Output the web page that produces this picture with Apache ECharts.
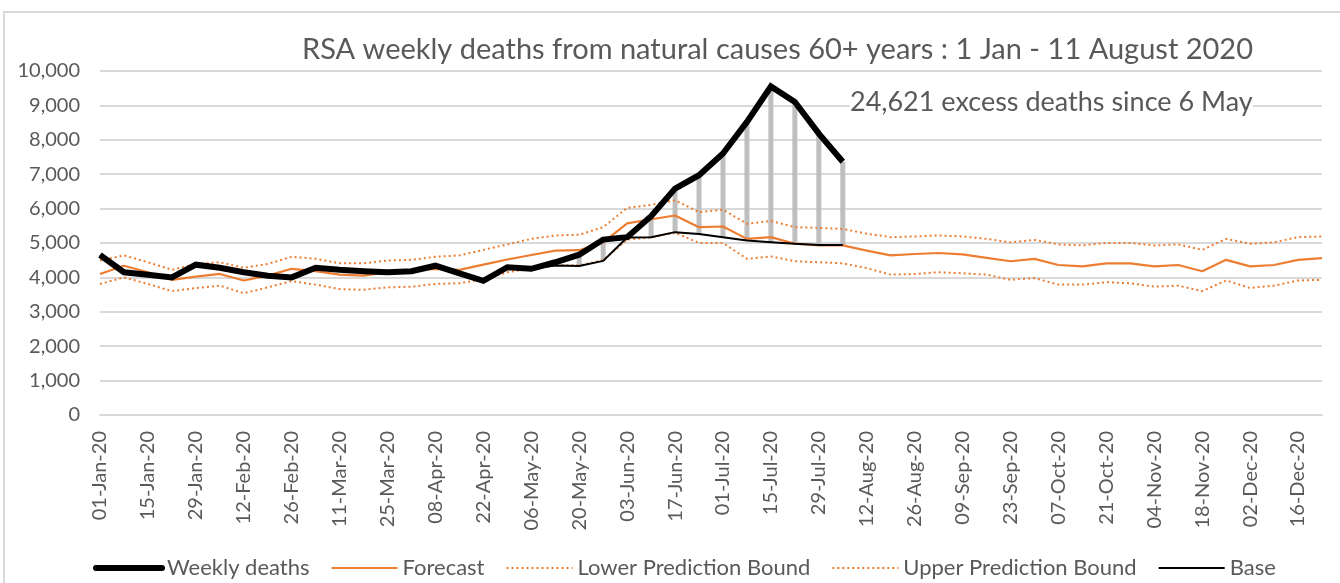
<!DOCTYPE html>
<html>
<head>
<meta charset="utf-8">
<script src="https://cdn.jsdelivr.net/npm/echarts@6/dist/echarts.min.js"></script>
<style>html,body{margin:0;padding:0;background:#fff;}#c{width:1340px;height:583px;}</style>
</head>
<body>
<div id="c"></div>
<script>
const categories = ['01-Jan-20','08-Jan-20','15-Jan-20','22-Jan-20','29-Jan-20','05-Feb-20','12-Feb-20','19-Feb-20','26-Feb-20','04-Mar-20','11-Mar-20','18-Mar-20','25-Mar-20','01-Apr-20','08-Apr-20','15-Apr-20','22-Apr-20','29-Apr-20','06-May-20','13-May-20','20-May-20','27-May-20','03-Jun-20','10-Jun-20','17-Jun-20','24-Jun-20','01-Jul-20','08-Jul-20','15-Jul-20','22-Jul-20','29-Jul-20','05-Aug-20','12-Aug-20','19-Aug-20','26-Aug-20','02-Sep-20','09-Sep-20','16-Sep-20','23-Sep-20','30-Sep-20','07-Oct-20','14-Oct-20','21-Oct-20','28-Oct-20','04-Nov-20','11-Nov-20','18-Nov-20','25-Nov-20','02-Dec-20','09-Dec-20','16-Dec-20','23-Dec-20'];

const weeklyDeaths = [4650,4150,4080,4000,4370,4280,4150,4050,4000,4280,4220,4180,4150,4180,4340,4120,3900,4295,4250,4440,4660,5100,5170,5780,6580,6970,7600,8520,9550,9100,8180,7360];

const base = [4650,4150,4080,4000,4370,4280,4150,4050,4000,4280,4220,4180,4150,4180,4340,4120,3900,4295,4250,4344,4330,4480,5160,5170,5316,5260,5170,5073,5024,4976,4940,4940];

const forecast = [4100,4340,4150,3930,4020,4100,3910,4050,4250,4180,4080,4050,4150,4200,4250,4220,4370,4520,4650,4780,4790,5020,5570,5690,5800,5460,5480,5120,5170,4980,4930,4930,4780,4640,4680,4710,4670,4570,4470,4540,4360,4320,4410,4410,4320,4360,4180,4510,4320,4360,4510,4560];

const upperBound = [4490,4640,4440,4220,4390,4440,4280,4390,4600,4540,4410,4410,4490,4510,4600,4640,4800,4960,5120,5220,5240,5460,6020,6110,6240,5900,5970,5560,5640,5460,5440,5410,5270,5170,5190,5220,5190,5120,5020,5090,4960,4930,5000,5000,4930,4960,4800,5120,4980,5020,5170,5190];

const lowerBound = [3810,4000,3810,3600,3690,3760,3540,3710,3890,3790,3660,3640,3710,3730,3810,3830,3950,4150,4250,4350,4350,4500,5100,5160,5300,5000,5000,4540,4610,4470,4440,4410,4270,4080,4100,4150,4120,4080,3930,3980,3790,3790,3860,3830,3730,3760,3600,3910,3690,3760,3910,3930];

const yTicks = {min: 0, max: 10000, interval: 1000};
const titleText = 'RSA weekly deaths from natural causes 60+ years : 1 Jan - 11 August 2020';
const noteText = '24,621 excess deaths since 6 May';

const excess = weeklyDeaths.map((v, i) => v - base[i]);

const FONT = 'Lato';
const GREY = '#595959';
const ORANGE = '#ED7D31';

const chart = echarts.init(document.getElementById('c'), null, {renderer: 'canvas'});
chart.setOption({
  animation: false,
  backgroundColor: '#fff',
  textStyle: {fontFamily: FONT, color: GREY},
  title: {
    text: titleText,
    left: 297, top: 30,
    textStyle: {fontFamily: FONT, fontSize: 29, fontWeight: 'normal', color: GREY}
  },
  graphic: [
    {type: 'rect', shape: {x: 4, y: 12, width: 1400, height: 700}, style: {fill: 'none', stroke: '#d9d9d9', lineWidth: 2}, silent: true, z: -1},
    {type: 'text', left: 850, top: 89, z: 100, style: {text: noteText, fontFamily: FONT, fontSize: 27, fill: GREY, backgroundColor: '#fff'}}
  ],
  grid: {left: 100, right: 18, top: 71, bottom: 168, containLabel: false},
  legend: {
    top: 552, left: 88,
    data: [
      {name: 'Weekly deaths', lineStyle: {width: 6, cap: 'round'}},
      {name: 'Forecast'},
      {name: 'Lower Prediction Bound'},
      {name: 'Upper Prediction Bound'},
      {name: 'Base'}
    ],
    itemWidth: 66, itemHeight: 14, itemGap: 21,
    itemStyle: {opacity: 0},
    textStyle: {fontFamily: FONT, fontSize: 22, color: GREY}
  },
  xAxis: {
    type: 'category', data: categories, boundaryGap: false,
    axisLine: {lineStyle: {color: '#d9d9d9', width: 2}},
    axisTick: {show: false},
    axisLabel: {interval: 1, rotate: 90, fontFamily: FONT, fontSize: 20, color: GREY, margin: 16}
  },
  yAxis: {
    type: 'value', min: yTicks.min, max: yTicks.max, interval: yTicks.interval,
    axisLine: {show: false}, axisTick: {show: false},
    axisLabel: {fontFamily: FONT, fontSize: 20, color: GREY, margin: 20,
      formatter: v => v.toLocaleString('en-US')},
    splitLine: {lineStyle: {color: '#d9d9d9', width: 2}}
  },
  series: [
    {name: 'Lower Prediction Bound', type: 'line', data: lowerBound, symbol: 'none',
      lineStyle: {color: ORANGE, width: 2, type: [2, 3]}, itemStyle: {color: ORANGE}},
    {name: 'Upper Prediction Bound', type: 'line', data: upperBound, symbol: 'none',
      lineStyle: {color: ORANGE, width: 2, type: [2, 3]}, itemStyle: {color: ORANGE}},
    {name: 'Forecast', type: 'line', data: forecast, symbol: 'none',
      lineStyle: {color: ORANGE, width: 2.2}, itemStyle: {color: ORANGE}},
    {name: 'baseHidden', type: 'bar', stack: 'ex', data: base, barWidth: 5,
      itemStyle: {color: 'rgba(0,0,0,0)'}, silent: true},
    {name: 'excess', type: 'bar', stack: 'ex', data: excess, barWidth: 5,
      itemStyle: {color: '#bfbfbf'}, silent: true},
    {name: 'Base', type: 'line', data: base, symbol: 'none',
      lineStyle: {color: '#000', width: 2}, itemStyle: {color: '#000'}},
    {name: 'Weekly deaths', type: 'line', data: weeklyDeaths, symbol: 'none',
      lineStyle: {color: '#000', width: 6, join: 'miter'}, itemStyle: {color: '#000'}}
  ]
});
</script>
</body>
</html>
